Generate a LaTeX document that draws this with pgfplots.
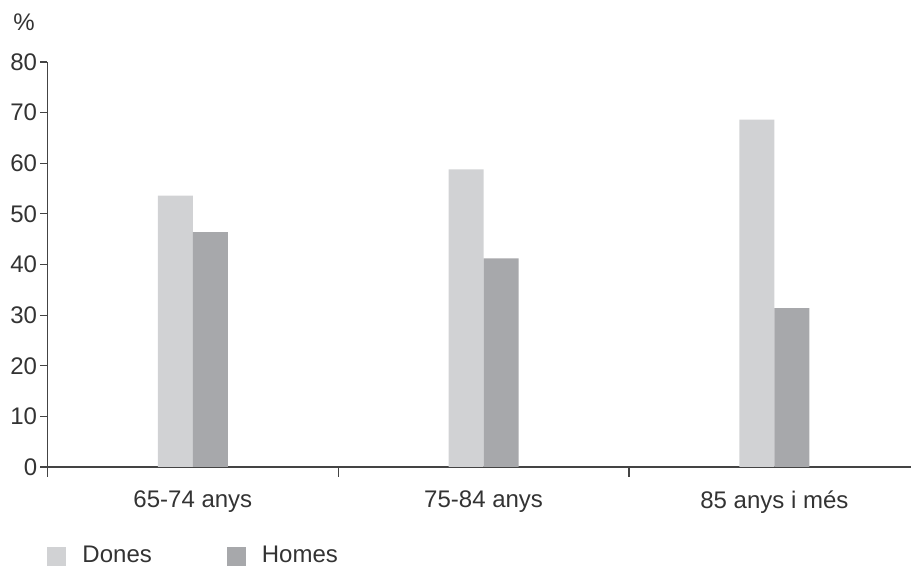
\documentclass[border=0pt]{standalone}
\usepackage{pgfplots}
\pgfplotsset{compat=1.18}
\usepackage{fontspec}
\setmainfont{Liberation Sans}
\definecolor{dones}{HTML}{D1D2D4}
\definecolor{homes}{HTML}{A7A8AB}
\definecolor{axisc}{HTML}{444444}
\definecolor{txt}{HTML}{333333}
\begin{document}
\fontsize{12pt}{14pt}\selectfont
\begin{tikzpicture}
\useasboundingbox (0,0) rectangle (455.5pt,283pt);
\begin{axis}[
  at={(23.75pt,49.5pt)}, anchor=south west,
  scale only axis, width=431.75pt, height=202.5pt,
  xmin=-0.5, xmax=2.47, ymin=0, ymax=80,
  axis lines*=left,
  axis line style={axisc, line width=0.6pt},
  every tick/.style={axisc, line width=0.6pt},
  tick align=outside,
  major tick length=3.5pt,
  ytick={0,10,...,80},
  xtick={0,1,2},
  xticklabels={65-74 anys,75-84 anys,85 anys i més},
  xtick style={draw=none},
  extra x ticks={-0.5,0.5,1.5},
  extra x tick labels={},
  extra x tick style={xtick style={draw=axisc, line width=0.6pt}, major tick length=5pt},
  ticklabel style={font=\fontsize{12pt}{14pt}\selectfont, text=txt},
  /pgf/number format/assume math mode=true,
  yticklabel style={inner sep=1pt, xshift=-0.5pt},
  xticklabel style={yshift=-4pt},
  ybar=0pt, bar width=17.5pt,
  legend columns=2,
  legend style={draw=none, fill=none, at={(0,-0.195)}, anchor=north west,
    inner sep=0pt, outer sep=0pt,
    font=\fontsize{12pt}{14pt}\selectfont, text=txt,
    nodes={inner sep=0pt},
    /tikz/every odd column/.style={column sep=8pt},
    /tikz/every even column/.style={column sep=37.5pt}},
  legend image code/.code={\fill[#1] (0pt,-4.75pt) rectangle (9.5pt,4.75pt);},
]
\addplot[fill=dones, draw=none] coordinates {(0,53.6) (1,58.8) (2,68.6)};
\addplot[fill=homes, draw=none] coordinates {(0,46.4) (1,41.2) (2,31.4)};
\legend{Dones,Homes}
\end{axis}
\node[anchor=base west, inner sep=0pt, text=txt] at (6.5pt,267.5pt) {\%};
\end{tikzpicture}
\end{document}
